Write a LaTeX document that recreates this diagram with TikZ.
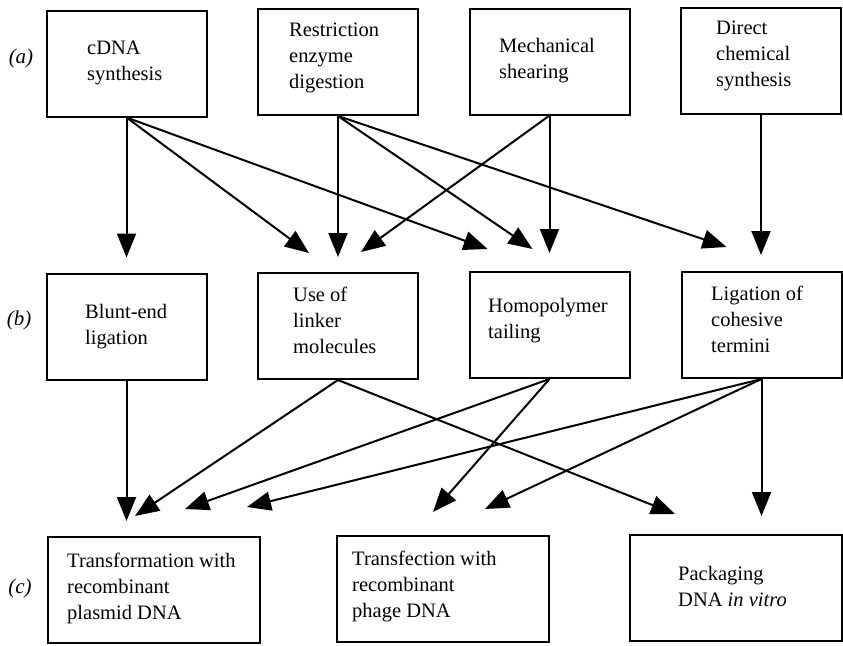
\documentclass[tikz,border=0pt]{standalone}
\usepackage{fontspec}
\setmainfont{Liberation Serif}
\usetikzlibrary{arrows.meta}

\begin{document}
\begin{tikzpicture}[x=1pt,y=-1pt]
	% Define styles for boxes, texts and arrows
	\tikzset{box/.style={draw, line width=2pt, minimum width=160pt, minimum height=106pt, inner sep=0pt},
		widebox/.style={box, minimum width=212pt},
		txt/.style={anchor=base west, align=left, inner sep=0pt, font=\fontsize{20.5}{26}\selectfont},
		rowlbl/.style={inner sep=0pt, font=\fontsize{21}{26}\selectfont\itshape},
		arr/.style={-{Triangle[length=24pt,width=19pt]}, line width=2pt}}
	
	% Fix the picture size
	\useasboundingbox (0,0) rectangle (843,645);
	
	% Row labels
	\node[rowlbl] (rowa) at (21,58) {(a)};
	\node[rowlbl] (rowb) at (19,320) {(b)};
	\node[rowlbl] (rowc) at (20,588) {(c)};
	
	% Draw the boxes of row (a)
	\node[box] (cdna) at (126.5,63.5) {};
	\node[box] (restr) at (338,62) {};
	\node[box] (mech) at (549.5,61.5) {};
	\node[box] (direct) at (761,61) {};
	
	% Draw the boxes of row (b)
	\node[box] (blunt) at (126.5,326.5) {};
	\node[box] (use) at (338,326) {};
	\node[box] (homo) at (549.5,325) {};
	\node[box] (lig) at (761.5,325) {};
	
	% Draw the boxes of row (c)
	\node[widebox] (trans) at (154,590) {};
	\node[widebox] (transf) at (443,589) {};
	\node[widebox] (pack) at (736,588) {};
	
	% Add the texts (anchored at the baseline of the last line)
	\node[txt] (cdnalbl) at (87,80) {cDNA\\synthesis};
	\node[txt] (restrlbl) at (289,88) {Restriction\\enzyme\\digestion};
	\node[txt] (mechlbl) at (499,78) {Mechanical\\shearing};
	\node[txt] (directlbl) at (716,86) {Direct\\chemical\\synthesis};
	\node[txt] (bluntlbl) at (85,344) {Blunt-end\\ligation};
	\node[txt] (uselbl) at (293,353) {Use of\\linker\\molecules};
	\node[txt] (homolbl) at (488,338) {Homopolymer\\tailing};
	\node[txt] (liglbl) at (711,352) {Ligation of\\cohesive\\termini};
	\node[txt] (translbl) at (67,619) {Transformation with\\recombinant\\plasmid DNA};
	\node[txt] (transflbl) at (352,617) {Transfection with\\recombinant\\phage DNA};
	\node[txt] (packlbl) at (678,606) {Packaging\\DNA \textit{in vitro}};
	
	% Arrows from row (a) to row (b)
	\draw[arr] (cdna.south) -- ([yshift=15pt]blunt.north);
	\draw[arr] (cdna.south) -- ([xshift=-29pt,yshift=19pt]use.north);
	\draw[arr] (cdna.south) -- ([xshift=-62pt,yshift=22pt]homo.north);
	\draw[arr] (restr.south) -- ([yshift=15pt]use.north);
	\draw[arr] (restr.south) -- ([xshift=-17pt,yshift=22pt]homo.north);
	\draw[arr] (restr.south) -- ([xshift=-35pt,yshift=24pt]lig.north);
	\draw[arr] (mech.south) -- ([xshift=23pt,yshift=20pt]use.north);
	\draw[arr] (mech.south) -- ([yshift=18pt]homo.north);
	\draw[arr] (direct.south) -- ([xshift=-0.5pt,yshift=16pt]lig.north);
	
	% Arrows from row (b) to row (c)
	\draw[arr] (blunt.south) -- ([xshift=-27.5pt,yshift=15pt]trans.north);
	\draw[arr] (use.south) -- ([xshift=-19pt,yshift=20pt]trans.north);
	\draw[arr] (use.south) -- ([xshift=-61pt,yshift=20pt]pack.north);
	\draw[arr] (homo.south) -- ([xshift=31pt,yshift=27pt]trans.north);
	\draw[arr] (homo.south) -- ([xshift=-10pt,yshift=23pt]transf.north);
	\draw[arr] (lig.south) -- ([xshift=93pt,yshift=29pt]trans.north);
	\draw[arr] (lig.south) -- ([xshift=42pt,yshift=26pt]transf.north);
	\draw[arr] (lig.south) -- ([xshift=25.5pt,yshift=18pt]pack.north);
\end{tikzpicture}
\end{document}
